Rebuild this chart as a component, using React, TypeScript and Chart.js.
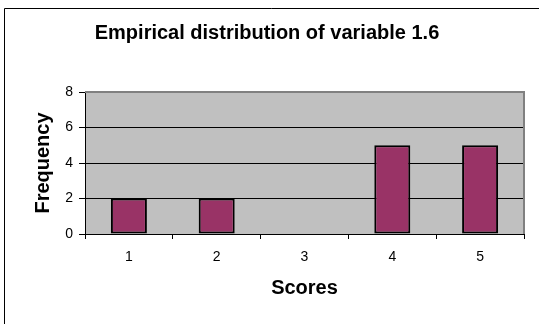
import React, { useEffect, useRef } from "react";
import { Chart, registerables } from "chart.js";

Chart.register(...registerables);

const categories = ["1", "2", "3", "4", "5"];
const frequencies = [2, 2, 0, 5, 5];
const yTicks = [0, 2, 4, 6, 8];
const titleText = "Empirical distribution of variable 1.6";
const xTitle = "Scores";
const yTitle = "Frequency";

const FONT = "'Liberation Sans', Arial, Helvetica, sans-serif";

const framePlugin = {
  id: "framePlugin",
  beforeDraw(chart: any) {
    const { ctx, chartArea } = chart;
    ctx.save();
    ctx.fillStyle = "#ffffff";
    ctx.fillRect(0, 0, chart.width, chart.height);
    ctx.fillStyle = "#C0C0C0";
    ctx.fillRect(chartArea.left, chartArea.top, chartArea.right - chartArea.left, chartArea.bottom - chartArea.top);
    ctx.strokeStyle = "#000000";
    ctx.lineWidth = 1;
    ctx.beginPath();
    ctx.moveTo(4.5, chart.height);
    ctx.lineTo(4.5, 8.5);
    ctx.lineTo(chart.width, 8.5);
    ctx.stroke();
    ctx.restore();
  },
  afterDatasetsDraw(chart: any) {
    const { ctx, chartArea } = chart;
    ctx.save();
    ctx.strokeStyle = "#808080";
    ctx.lineWidth = 2;
    ctx.beginPath();
    ctx.moveTo(chartArea.left, chartArea.top);
    ctx.lineTo(chartArea.right, chartArea.top);
    ctx.lineTo(chartArea.right, chartArea.bottom);
    ctx.stroke();
    ctx.restore();
  },
};

export default function App() {
  const ref = useRef<HTMLCanvasElement | null>(null);

  useEffect(() => {
    document.body.style.margin = "0";
    const canvas = ref.current;
    if (!canvas) return;
    const chart = new Chart(canvas, {
      type: "bar",
      data: {
        labels: categories,
        datasets: [
          {
            data: frequencies,
            backgroundColor: "#993366",
            borderColor: "#000000",
            borderWidth: 2,
            borderSkipped: false,
            categoryPercentage: 1,
            barPercentage: 0.41,
          },
        ],
      },
      options: {
        responsive: false,
        animation: false,
        devicePixelRatio: 1,
        layout: { padding: { left: 10, right: 15, top: 0, bottom: 20 } },
        plugins: {
          legend: { display: false },
          tooltip: { enabled: false },
          title: {
            display: true,
            text: titleText,
            color: "#000000",
            font: { family: FONT, size: 20, weight: "bold" },
            padding: { top: 21, bottom: 47 },
          },
        },
        scales: {
          x: {
            grid: {
              display: true,
              drawOnChartArea: false,
              drawTicks: true,
              tickLength: 5,
              tickColor: "#000000",
              color: "#000000",
            },
            border: { display: true, color: "#000000", width: 1 },
            ticks: {
              color: "#000000",
              font: { family: FONT, size: 14 },
              padding: 10,
              maxRotation: 0,
            },
            title: {
              display: true,
              text: xTitle,
              color: "#000000",
              font: { family: FONT, size: 20, weight: "bold" },
              padding: { top: 0, bottom: 4 },
            },
            afterFit(scale: any) {
              scale.height = 70;
            },
          },
          y: {
            min: 0,
            max: 8,
            afterBuildTicks(scale: any) {
              scale.ticks = yTicks.map((v) => ({ value: v }));
            },
            grid: {
              drawTicks: true,
              tickLength: 6,
              tickColor: "#000000",
              color: (c: any) => (c.tick && (c.tick.value === 8 || c.tick.value === 0) ? "rgba(0,0,0,0)" : "#000000"),
              lineWidth: 1,
            },
            border: { display: true, color: "#000000", width: 1 },
            ticks: {
              color: "#000000",
              font: { family: FONT, size: 14 },
              padding: 6,
            },
            title: {
              display: true,
              text: yTitle,
              color: "#000000",
              font: { family: FONT, size: 20, weight: "bold" },
              padding: { top: 21, bottom: 0 },
            },
            afterFit(scale: any) {
              scale.width = 75;
            },
          },
        },
      },
      plugins: [framePlugin],
    });
    return () => chart.destroy();
  }, []);

  return <canvas ref={ref} width={539} height={324} style={{ display: "block" }} />;
}
